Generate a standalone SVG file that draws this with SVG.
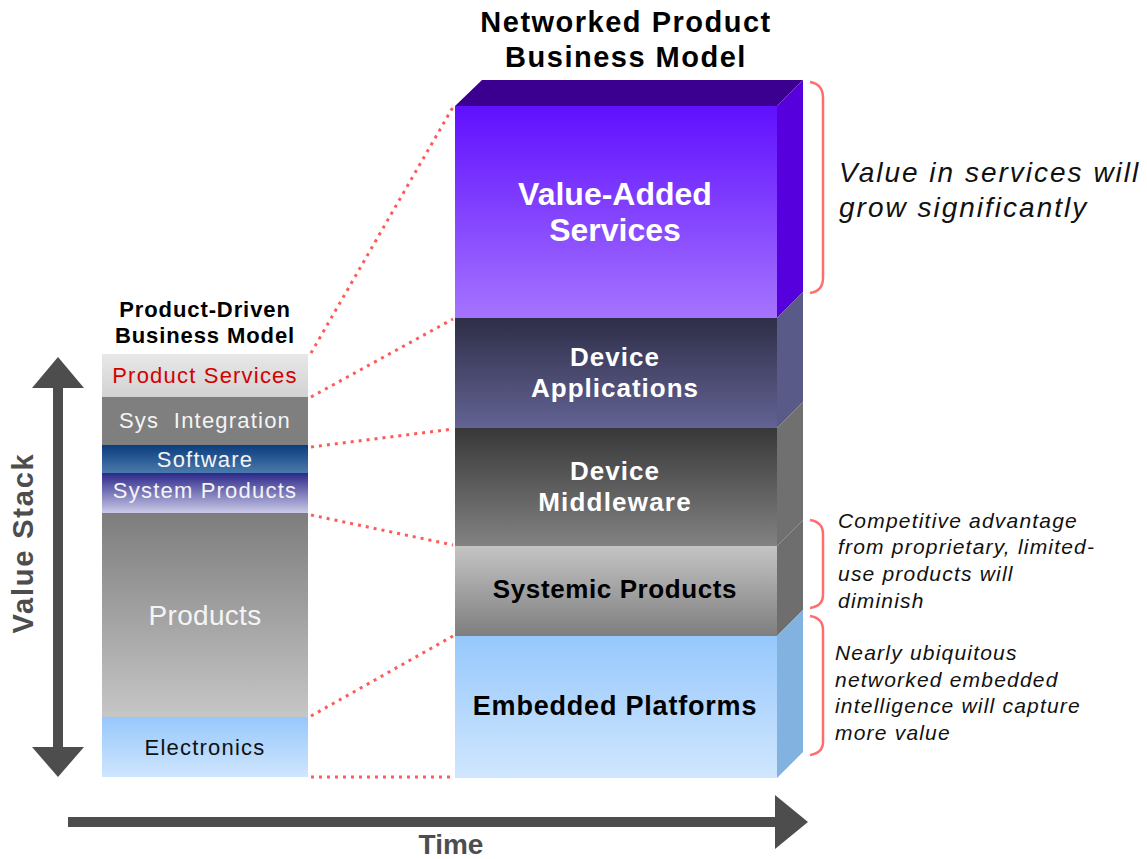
<svg xmlns="http://www.w3.org/2000/svg" width="1147" height="859" viewBox="0 0 1147 859">
<style>
text{font-family:"Liberation Sans",Arial,Helvetica,sans-serif}
.title{font-size:29px;font-weight:bold;fill:#000;text-anchor:middle;letter-spacing:1.5px}
.lt{font-size:22px;text-anchor:middle;letter-spacing:1.2px}
.lw{fill:#f4f4f4}
.rt{font-weight:bold;text-anchor:middle;fill:#fff}
.note{font-style:italic;fill:#111}
.dot{fill:none;stroke:#ff5a5a;stroke-width:3;stroke-dasharray:3 5}
.brace{fill:none;stroke:#ff6e6e;stroke-width:2.5}
.axis{fill:#4d4d4d}
.axt{font-weight:bold;fill:#4d4d4d}
</style>
<defs>
<linearGradient id="gPS" x1="0" y1="0" x2="0" y2="1"><stop offset="0" stop-color="#e8e8e8"/><stop offset="1" stop-color="#d2d2d2"/></linearGradient>
<linearGradient id="gSW" x1="0" y1="0" x2="0" y2="1"><stop offset="0" stop-color="#0b3c7e"/><stop offset="1" stop-color="#4a7aac"/></linearGradient>
<linearGradient id="gSP" x1="0" y1="0" x2="0" y2="1"><stop offset="0" stop-color="#2c288a"/><stop offset="1" stop-color="#cacae8"/></linearGradient>
<linearGradient id="gPR" x1="0" y1="0" x2="0" y2="1"><stop offset="0" stop-color="#7d7d7d"/><stop offset="1" stop-color="#c6c6c6"/></linearGradient>
<linearGradient id="gEL" x1="0" y1="0" x2="0" y2="1"><stop offset="0" stop-color="#96c8fc"/><stop offset="1" stop-color="#cfe6fe"/></linearGradient>
<linearGradient id="gVA" x1="0" y1="0" x2="0" y2="1"><stop offset="0" stop-color="#6010fe"/><stop offset="1" stop-color="#a574fe"/></linearGradient>
<linearGradient id="gDA" x1="0" y1="0" x2="0" y2="1"><stop offset="0" stop-color="#2e2e48"/><stop offset="1" stop-color="#636394"/></linearGradient>
<linearGradient id="gDM" x1="0" y1="0" x2="0" y2="1"><stop offset="0" stop-color="#383838"/><stop offset="1" stop-color="#828282"/></linearGradient>
<linearGradient id="gSY" x1="0" y1="0" x2="0" y2="1"><stop offset="0" stop-color="#c4c4c4"/><stop offset="1" stop-color="#7e7e7e"/></linearGradient>
<linearGradient id="gEP" x1="0" y1="0" x2="0" y2="1"><stop offset="0" stop-color="#96c8fc"/><stop offset="1" stop-color="#d0e6fe"/></linearGradient>
</defs>
<rect width="1147" height="859" fill="#fff"/>

<g id="title-networked">
<text class="title" x="626" y="32">Networked Product</text>
<text class="title" x="626" y="67">Business Model</text>
</g>
<g id="title-product-driven">
<text class="title" x="205" y="317" style="font-size:22px;letter-spacing:0.9px">Product-Driven</text>
<text class="title" x="205" y="343" style="font-size:22px;letter-spacing:0.9px">Business Model</text>
</g>

<g id="value-stack-axis">
<rect class="axis" x="53" y="380" width="10" height="375"/>
<polygon class="axis" points="58,357 84,388 32,388"/>
<polygon class="axis" points="58,777 84,747 32,747"/>
<text class="axt" transform="translate(33,543) rotate(-90)" text-anchor="middle" style="font-size:29px;letter-spacing:1.8px">Value Stack</text>
</g>
<g id="time-axis">
<rect class="axis" x="68" y="817" width="712" height="10"/>
<polygon class="axis" points="808,822 775,795 775,849"/>
<text class="axt" x="451" y="854" text-anchor="middle" style="font-size:28px">Time</text>
</g>

<g id="left-product-services"><rect x="102" y="354" width="206" height="43" fill="url(#gPS)"/><text class="lt" x="205" y="383" fill="#d40000">Product Services</text></g>
<g id="left-sys-integration"><rect x="102" y="397" width="206" height="48" fill="#7f7f7f"/><text class="lt lw" x="205" y="428" style="white-space:pre">Sys  Integration</text></g>
<g id="left-software"><rect x="102" y="445" width="206" height="28" fill="url(#gSW)"/><text class="lt lw" x="205" y="467">Software</text></g>
<g id="left-system-products"><rect x="102" y="473" width="206" height="40" fill="url(#gSP)"/><text class="lt lw" x="205" y="498">System Products</text></g>
<g id="left-products"><rect x="102" y="513" width="206" height="204" fill="url(#gPR)"/><text class="lt lw" x="205" y="625" style="font-size:28px;letter-spacing:0.3px">Products</text></g>
<g id="left-electronics"><rect x="102" y="717" width="206" height="60" fill="url(#gEL)"/><text class="lt" x="205" y="755" fill="#111">Electronics</text></g>

<g id="right-top-face"><polygon points="455,106 482,80 803,80 777,106" fill="#3b0090"/></g>
<g id="right-value-added">
<rect x="455" y="106" width="322" height="212" fill="url(#gVA)"/>
<polygon points="777,106 803,80 803,292 777,318" fill="#5600de"/>
<text class="rt" x="615" y="205" style="font-size:32px">Value-Added</text>
<text class="rt" x="615" y="241" style="font-size:32px">Services</text>
</g>
<g id="right-device-applications">
<rect x="455" y="318" width="322" height="110" fill="url(#gDA)"/>
<polygon points="777,318 803,292 803,402 777,428" fill="#5a5a88"/>
<text class="rt" x="615" y="366" style="font-size:26px;letter-spacing:1px">Device</text>
<text class="rt" x="615" y="397" style="font-size:26px;letter-spacing:1px">Applications</text>
</g>
<g id="right-device-middleware">
<rect x="455" y="428" width="322" height="118" fill="url(#gDM)"/>
<polygon points="777,428 803,402 803,520 777,546" fill="#707070"/>
<text class="rt" x="615" y="480" style="font-size:26px;letter-spacing:1px">Device</text>
<text class="rt" x="615" y="511" style="font-size:26px;letter-spacing:1.2px">Middleware</text>
</g>
<g id="right-systemic-products">
<rect x="455" y="546" width="322" height="90" fill="url(#gSY)"/>
<polygon points="777,546 803,520 803,610 777,636" fill="#6e6e6e"/>
<text class="rt" x="615" y="598" style="font-size:26px;letter-spacing:0.6px;fill:#000">Systemic Products</text>
</g>
<g id="right-embedded-platforms">
<rect x="455" y="636" width="322" height="142" fill="url(#gEP)"/>
<polygon points="777,636 803,610 803,752 777,778" fill="#82b2e0"/>
<text class="rt" x="615" y="715" style="font-size:27px;letter-spacing:0.8px;fill:#000">Embedded Platforms</text>
</g>

<g id="connectors">
<line class="dot" x1="311" y1="353" x2="453" y2="107"/>
<line class="dot" x1="311" y1="397" x2="453" y2="319"/>
<line class="dot" x1="311" y1="447" x2="453" y2="429"/>
<line class="dot" x1="311" y1="515" x2="453" y2="545"/>
<line class="dot" x1="311" y1="716" x2="453" y2="636"/>
<line class="dot" x1="311" y1="777" x2="453" y2="777"/>
</g>

<g id="braces">
<path class="brace" d="M810,82 Q823,84 823,98 L823,278 Q823,291 810,293"/>
<path class="brace" d="M810,520 Q823,522 823,534 L823,595 Q823,606 810,608"/>
<path class="brace" d="M810,616 Q823,618 823,630 L823,742 Q823,753 810,755"/>
</g>

<g id="note-value-services">
<text class="note" x="839" y="182" style="font-size:28px;letter-spacing:2px">Value in services will</text>
<text class="note" x="839" y="217" style="font-size:28px;letter-spacing:2px">grow significantly</text>
</g>
<g id="note-competitive">
<text class="note" x="838" y="528" style="font-size:21px;letter-spacing:1.2px">Competitive advantage</text>
<text class="note" x="838" y="554" style="font-size:21px;letter-spacing:1.2px">from proprietary, limited-</text>
<text class="note" x="838" y="581" style="font-size:21px;letter-spacing:1.2px">use products will</text>
<text class="note" x="838" y="608" style="font-size:21px;letter-spacing:1.2px">diminish</text>
</g>
<g id="note-embedded">
<text class="note" x="835" y="660" style="font-size:21px;letter-spacing:1.2px">Nearly ubiquitous</text>
<text class="note" x="835" y="687" style="font-size:21px;letter-spacing:1.2px">networked embedded</text>
<text class="note" x="835" y="713" style="font-size:21px;letter-spacing:1.2px">intelligence will capture</text>
<text class="note" x="835" y="740" style="font-size:21px;letter-spacing:1.2px">more value</text>
</g>
</svg>
